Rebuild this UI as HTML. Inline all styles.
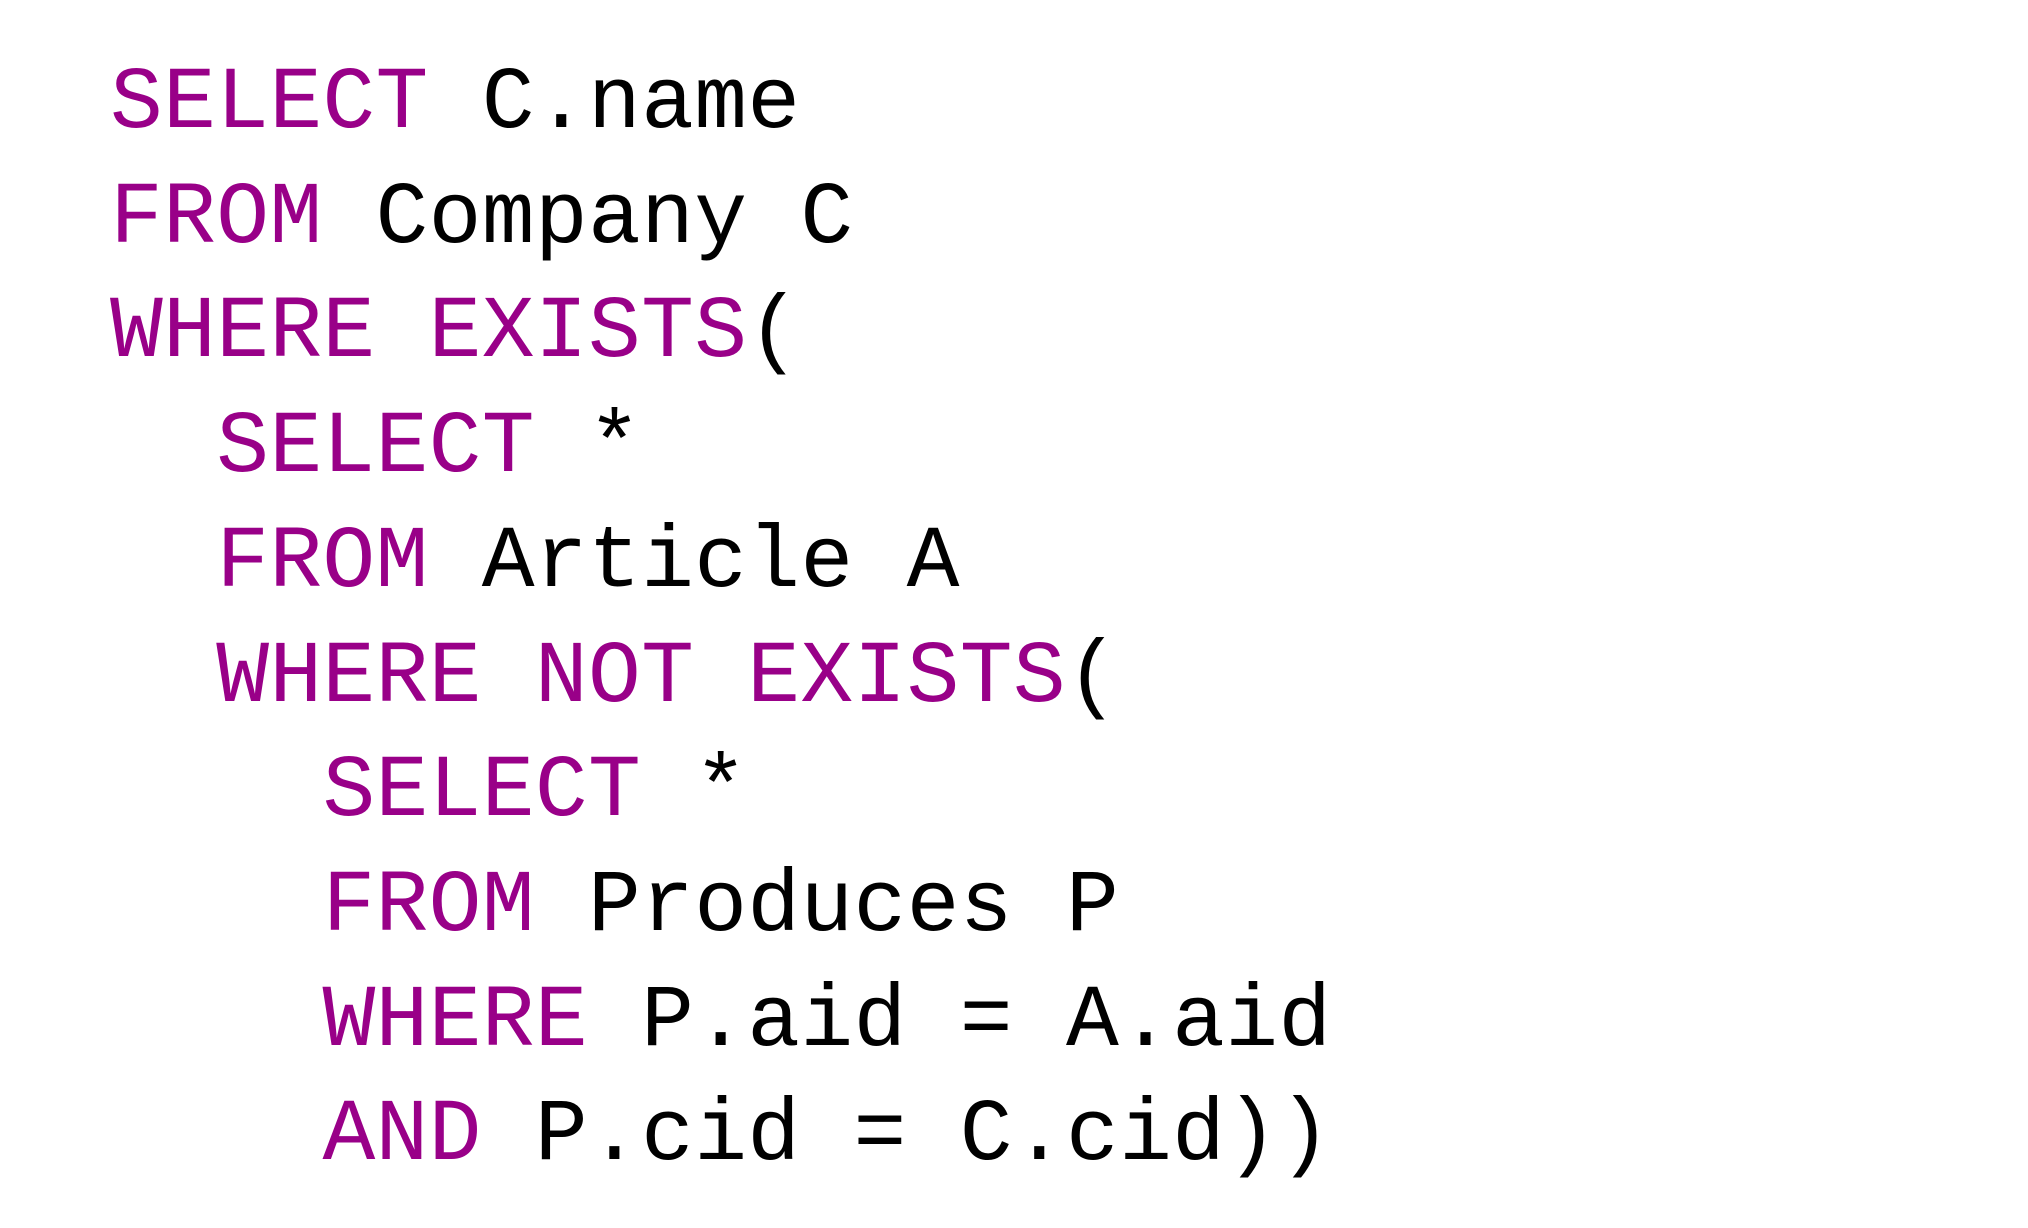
<!DOCTYPE html>
<html><head><meta charset="utf-8"><style>
html,body{margin:0;padding:0;background:#fff;width:2028px;height:1228px;overflow:hidden}
pre{position:absolute;left:110px;top:48px;margin:0;font-family:"Liberation Mono",monospace;font-size:88px;line-height:114.7px;color:#000;letter-spacing:0.3px}
.k{color:#990088}
</style></head><body>
<pre><span class="k">SELECT</span> C.name
<span class="k">FROM</span> Company C
<span class="k">WHERE EXISTS</span>(
  <span class="k">SELECT</span> *
  <span class="k">FROM</span> Article A
  <span class="k">WHERE NOT EXISTS</span>(
    <span class="k">SELECT</span> *
    <span class="k">FROM</span> Produces P
    <span class="k">WHERE</span> P.aid = A.aid
    <span class="k">AND</span> P.cid = C.cid))</pre>
</body></html>
